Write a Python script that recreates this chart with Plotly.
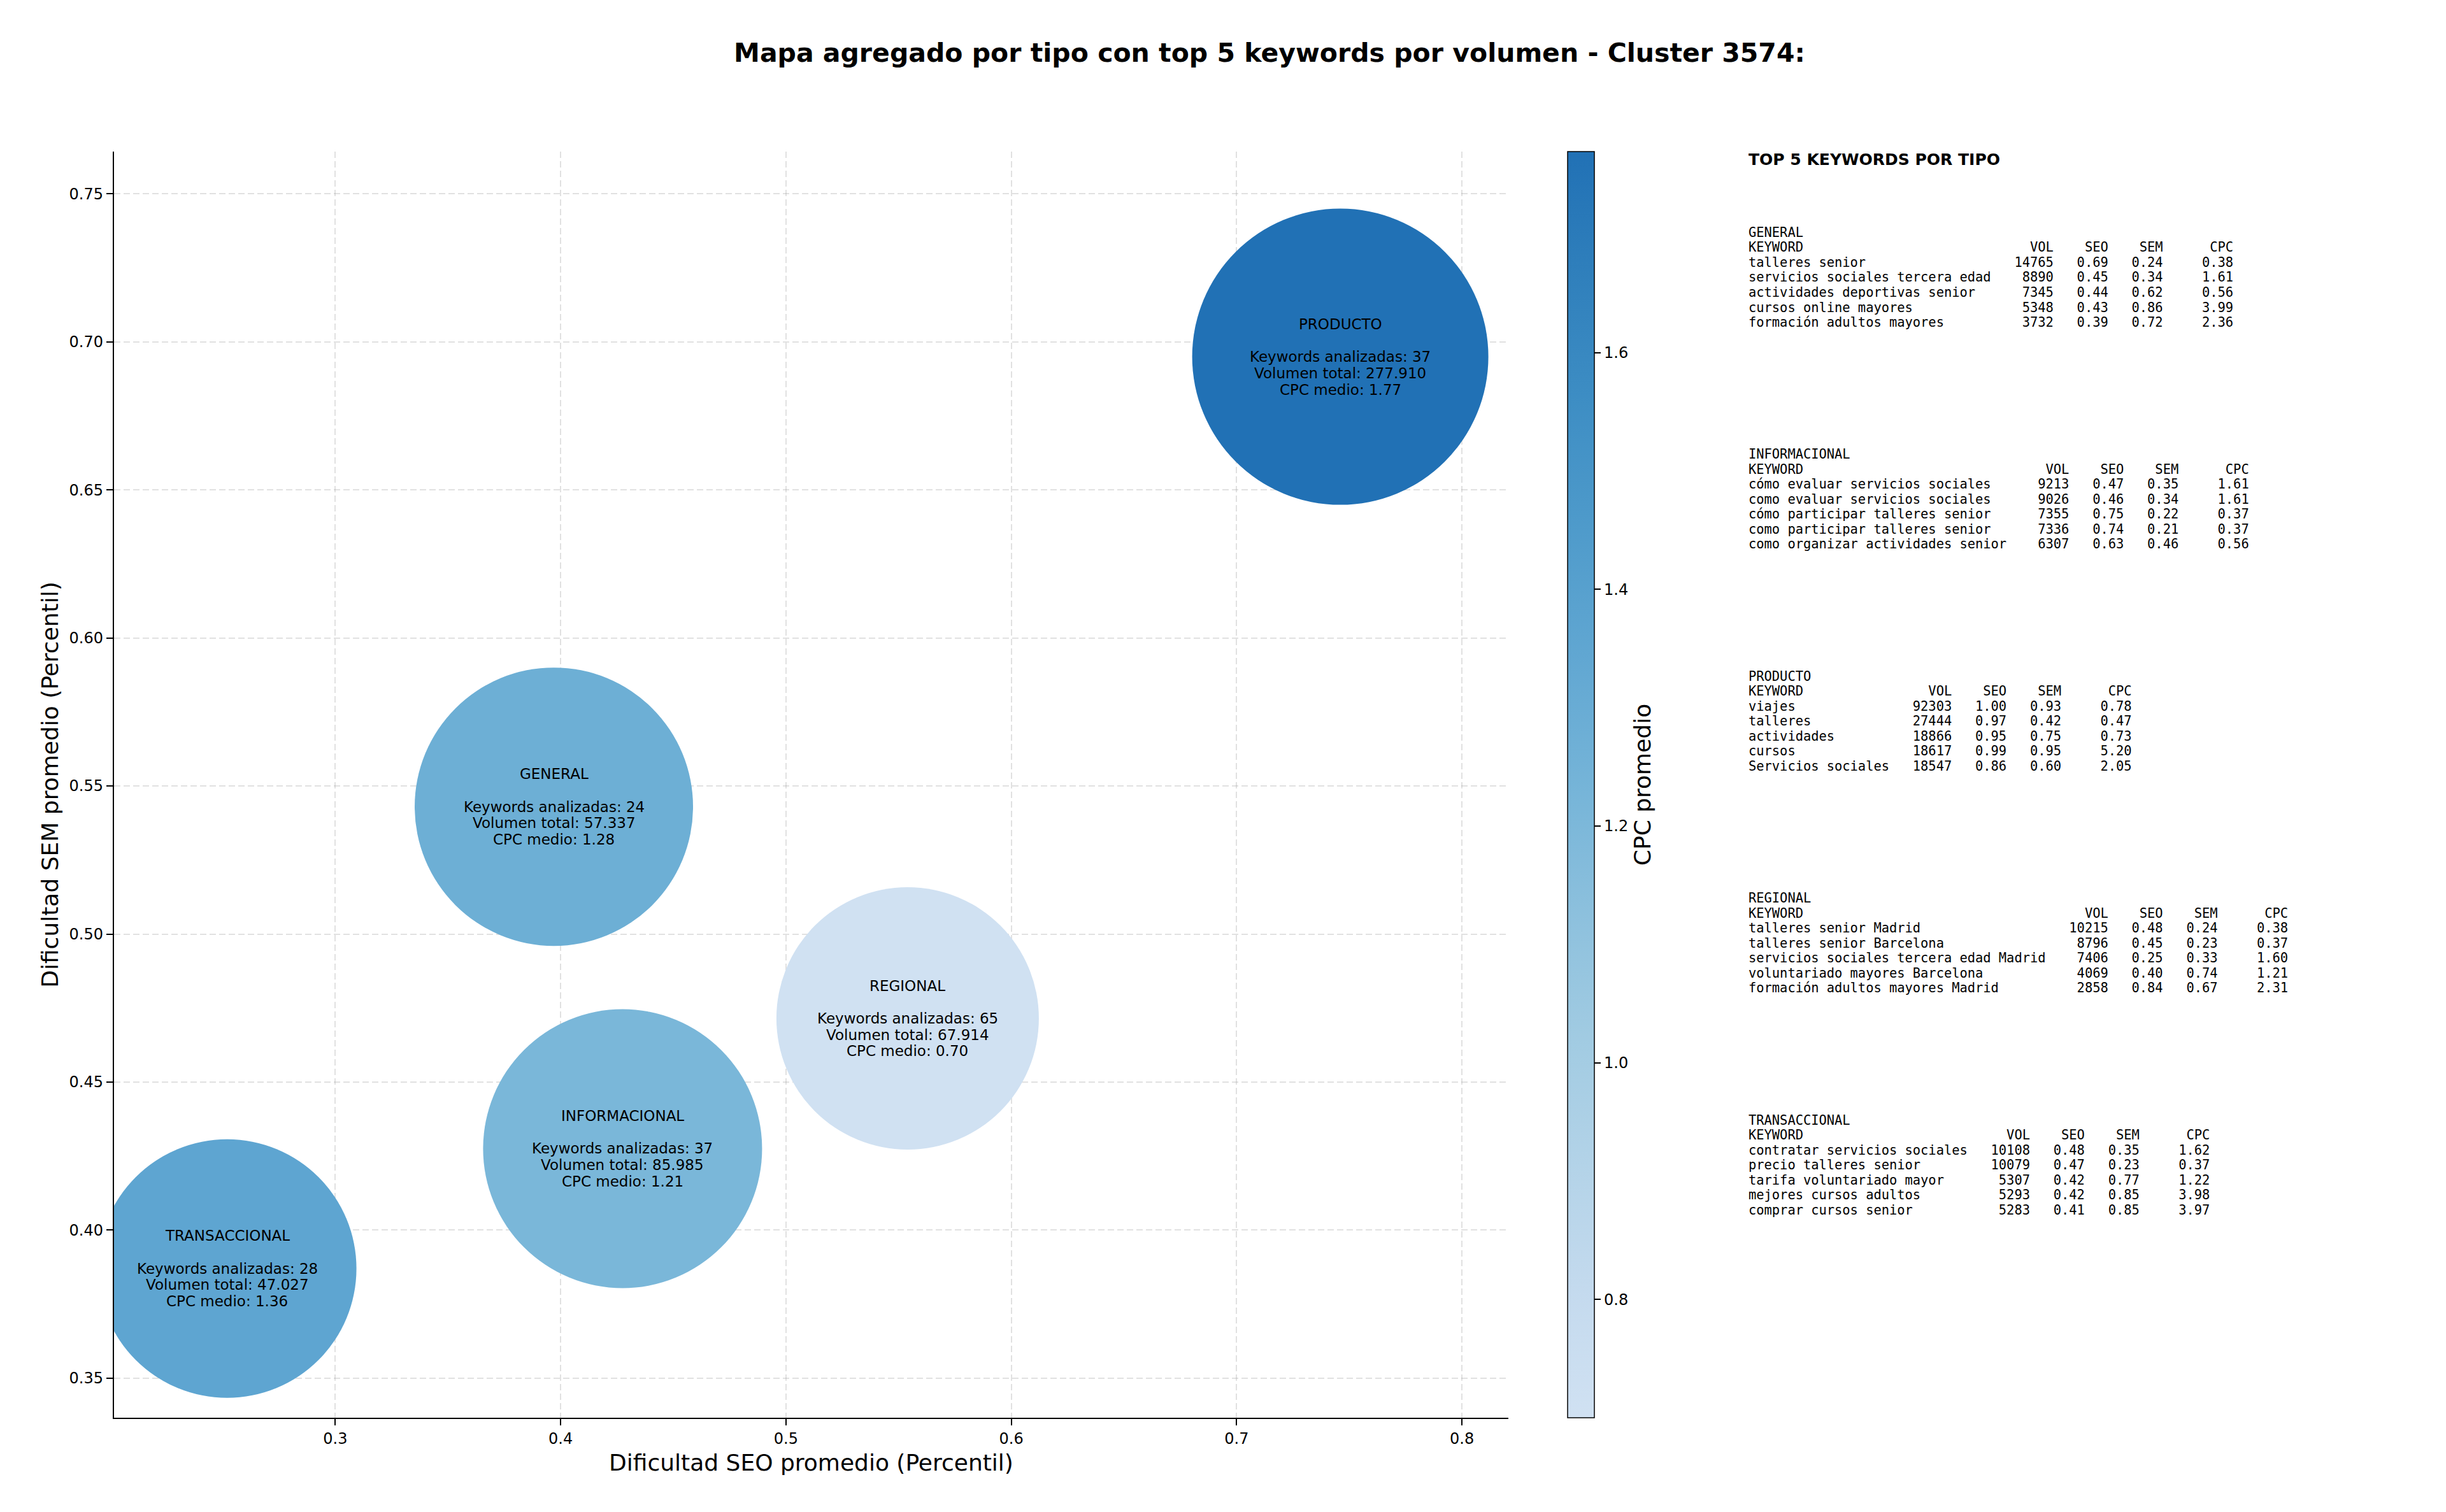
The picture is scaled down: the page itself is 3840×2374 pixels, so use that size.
import numpy as np
import plotly.graph_objects as go

# ---------------- data ----------------
tipos = ["GENERAL", "INFORMACIONAL", "PRODUCTO", "REGIONAL", "TRANSACCIONAL"]
seo_medio = [0.397, 0.4275, 0.746, 0.554, 0.252]
sem_medio = [0.543, 0.4275, 0.695, 0.4715, 0.387]
keywords_analizadas = [24, 37, 37, 65, 28]
volumen_total = [57337, 85985, 277910, 67914, 47027]
cpc_medio = [1.28, 1.21, 1.77, 0.70, 1.36]

gen_kw = ["talleres senior", "servicios sociales tercera edad", "actividades deportivas senior",
          "cursos online mayores", "formación adultos mayores"]
gen_vol = [14765, 8890, 7345, 5348, 3732]
gen_seo = [0.69, 0.45, 0.44, 0.43, 0.39]
gen_sem = [0.24, 0.34, 0.62, 0.86, 0.72]
gen_cpc = [0.38, 1.61, 0.56, 3.99, 2.36]

inf_kw = ["cómo evaluar servicios sociales", "como evaluar servicios sociales", "cómo participar talleres senior",
          "como participar talleres senior", "como organizar actividades senior"]
inf_vol = [9213, 9026, 7355, 7336, 6307]
inf_seo = [0.47, 0.46, 0.75, 0.74, 0.63]
inf_sem = [0.35, 0.34, 0.22, 0.21, 0.46]
inf_cpc = [1.61, 1.61, 0.37, 0.37, 0.56]

pro_kw = ["viajes", "talleres", "actividades", "cursos", "Servicios sociales"]
pro_vol = [92303, 27444, 18866, 18617, 18547]
pro_seo = [1.00, 0.97, 0.95, 0.99, 0.86]
pro_sem = [0.93, 0.42, 0.75, 0.95, 0.60]
pro_cpc = [0.78, 0.47, 0.73, 5.20, 2.05]

reg_kw = ["talleres senior Madrid", "talleres senior Barcelona", "servicios sociales tercera edad Madrid",
          "voluntariado mayores Barcelona", "formación adultos mayores Madrid"]
reg_vol = [10215, 8796, 7406, 4069, 2858]
reg_seo = [0.48, 0.45, 0.25, 0.40, 0.84]
reg_sem = [0.24, 0.23, 0.33, 0.74, 0.67]
reg_cpc = [0.38, 0.37, 1.60, 1.21, 2.31]

tra_kw = ["contratar servicios sociales", "precio talleres senior", "tarifa voluntariado mayor",
          "mejores cursos adultos", "comprar cursos senior"]
tra_vol = [10108, 10079, 5307, 5293, 5283]
tra_seo = [0.48, 0.47, 0.42, 0.42, 0.41]
tra_sem = [0.35, 0.23, 0.77, 0.85, 0.85]
tra_cpc = [1.62, 0.37, 1.22, 3.98, 3.97]

# ---------------- style ----------------
W, H = 3840, 2374
ML, MR, MT, MB = 179, 1472, 238, 148
PW, PH = W - ML - MR, H - MT - MB
bubble_diam = [437, 438, 465, 412, 406]  # marker diameters (px), estimated
FONT = "DejaVu Sans"
MONO = "DejaVu Sans Mono"

blues = ["#f7fbff", "#deebf7", "#c6dbef", "#9ecae1", "#6baed6",
         "#4292c6", "#2171b5", "#08519c", "#08306b"]


def hex2rgb(h):
    h = h.lstrip("#")
    return np.array([int(h[i:i + 2], 16) for i in (0, 2, 4)], dtype=float)


def blues_at(t):
    pos = t * (len(blues) - 1)
    i = int(min(np.floor(pos), len(blues) - 2))
    f = pos - i
    c = hex2rgb(blues[i]) * (1 - f) + hex2rgb(blues[i + 1]) * f
    return "rgb(%d,%d,%d)" % tuple(np.round(c).astype(int))


colorscale = [[k / 10, blues_at(0.2 + 0.55 * k / 10)] for k in range(11)]

fig = go.Figure()
fig.add_trace(go.Scatter(
    x=seo_medio, y=sem_medio, mode="markers",
    marker=dict(size=bubble_diam, sizemode="diameter", color=cpc_medio,
                colorscale=colorscale, opacity=1, line=dict(width=0),
                colorbar=dict(
                    x=(2461 - ML) / PW, xref="paper", xanchor="left",
                    y=0.5, yanchor="middle", len=1, lenmode="fraction",
                    thickness=42, thicknessmode="pixels",
                    outlinewidth=1.5, outlinecolor="black",
                    xpad=0, ypad=0,
                    tickvals=[0.8, 1.0, 1.2, 1.4, 1.6], tickformat=".1f",
                    ticks="outside", ticklen=10, tickwidth=2, tickcolor="black",
                    tickfont=dict(family=FONT, size=24, color="black"),
                    title=dict(text="CPC promedio", side="right",
                               font=dict(family=FONT, size=36, color="black")),
                )),
    cliponaxis=True, showlegend=False, hoverinfo="skip",
))

annotations = []
# bubble labels
LS = 25.7
for i, t in enumerate(tipos):
    vol_txt = f"{volumen_total[i]:,}".replace(",", ".")
    lines = [(t, 2 * LS),
             (f"Keywords analizadas: {keywords_analizadas[i]}", 0),
             (f"Volumen total: {vol_txt}", -LS),
             (f"CPC medio: {cpc_medio[i]:.2f}", -2 * LS)]
    for txt, dy in lines:
        annotations.append(dict(x=seo_medio[i], y=sem_medio[i], xref="x", yref="y",
                                text=txt, showarrow=False, xanchor="center", yanchor="middle",
                                yshift=dy, font=dict(family=FONT, size=23, color="black")))

# right-hand keyword table
def py2paper(py):
    return 1 - (py - MT) / PH


px_x = (2743 - ML) / PW
annotations.append(dict(x=px_x, y=py2paper(250), xref="paper", yref="paper",
                        text="<b>TOP 5 KEYWORDS POR TIPO</b>", showarrow=False,
                        xanchor="left", yanchor="middle",
                        font=dict(family=FONT, size=25, color="black")))

blocks = [
    ("GENERAL", gen_kw, gen_vol, gen_seo, gen_sem, gen_cpc),
    ("INFORMACIONAL", inf_kw, inf_vol, inf_seo, inf_sem, inf_cpc),
    ("PRODUCTO", pro_kw, pro_vol, pro_seo, pro_sem, pro_cpc),
    ("REGIONAL", reg_kw, reg_vol, reg_seo, reg_sem, reg_cpc),
    ("TRANSACCIONAL", tra_kw, tra_vol, tra_seo, tra_sem, tra_cpc),
]
BLOCK0, BLOCK_H, LINE_H = 365, 348.4, 23.5
for b, (name, kw, vol, seo, sem, cpc) in enumerate(blocks):
    L = max(len(k) for k in kw)
    lines = [name, f"{'KEYWORD':<{L}} {'VOL':>7} {'SEO':>6} {'SEM':>6} {'CPC':>8}"]
    for j in range(len(kw)):
        lines.append(f"{kw[j]:<{L}} {vol[j]:>7} {seo[j]:>6.2f} {sem[j]:>6.2f} {cpc[j]:>8.2f}")
    for k, ln in enumerate(lines):
        py = BLOCK0 + b * BLOCK_H + k * LINE_H
        annotations.append(dict(x=px_x, y=py2paper(py), xref="paper", yref="paper",
                                text=ln.replace(" ", "\u00a0"), showarrow=False,
                                xanchor="left", yanchor="middle",
                                font=dict(family=MONO, size=20.4, color="black")))

axis_common = dict(
    showline=True, linecolor="black", linewidth=2.4, mirror=False,
    ticks="outside", ticklen=10, tickwidth=2.4, tickcolor="black",
    tickfont=dict(family=FONT, size=24, color="black"),
    showgrid=True, gridcolor="rgba(170,170,170,0.35)", gridwidth=2, griddash="10px,5px",
    zeroline=False, layer="above traces",
)

fig.update_layout(
    width=W, height=H,
    margin=dict(l=ML, r=MR, t=MT, b=MB, autoexpand=False),
    paper_bgcolor="white", plot_bgcolor="white",
    title=dict(text="<b>Mapa agregado por tipo con top 5 keywords por volumen - Cluster 3574:</b>",
               x=0.519, xref="container", xanchor="center",
               y=1 - 83 / H, yref="container", yanchor="middle",
               font=dict(family=FONT, size=41, color="black")),
    xaxis=dict(range=[0.2018, 0.8206], dtick=0.1, tick0=0.3, tickformat=".1f",
               title=dict(text="Dificultad SEO promedio (Percentil)", standoff=12,
                          font=dict(family=FONT, size=36, color="black")),
               **axis_common),
    yaxis=dict(range=[0.3366, 0.7643], dtick=0.05, tick0=0.35, tickformat=".2f",
               title=dict(text="Dificultad SEM promedio (Percentil)", standoff=6,
                          font=dict(family=FONT, size=36, color="black")),
               **axis_common),
    annotations=annotations,
)

fig.write_html("out.html")
